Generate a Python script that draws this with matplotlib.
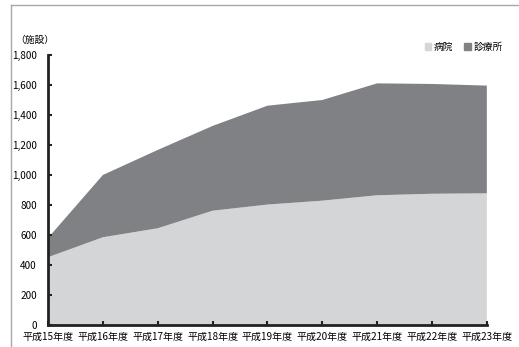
import numpy as np
import matplotlib.pyplot as plt
from matplotlib.lines import Line2D
from matplotlib.patches import Patch

plt.rcParams['font.family'] = ['Noto Sans CJK JP', 'DejaVu Sans']

years = ['平成15年度', '平成16年度', '平成17年度', '平成18年度', '平成19年度',
         '平成20年度', '平成21年度', '平成22年度', '平成23年度']
hospital = [452, 585, 645, 762, 803, 829, 865, 875, 878]
total = [580, 1000, 1167, 1327, 1462, 1500, 1611, 1607, 1596]
clinic = [t - h for t, h in zip(total, hospital)]

c_hosp = '#d4d5d7'
c_clin = '#808184'

fig = plt.figure(figsize=(5.19, 3.47), dpi=100)
ax = fig.add_axes([0.0925, 0.0634, 0.8455, 0.7781])

x = np.arange(len(years))
ax.stackplot(x, hospital, clinic, colors=[c_hosp, c_clin], linewidth=0)

ax.set_xlim(0, len(years) - 1)
ax.set_ylim(0, 1800)
ax.set_yticks(range(0, 1801, 200))
ax.set_yticklabels([f'{v:,}' for v in range(0, 1801, 200)])
ax.set_xticks(x)
ax.set_xticklabels(years)
ax.tick_params(direction='in', length=3, width=1.5, labelsize=7.2, color='#222222')
ax.tick_params(axis='y', pad=8)
ax.tick_params(axis='x', pad=5)
for s in ['top', 'right']:
    ax.spines[s].set_visible(False)
for s in ['left', 'bottom']:
    ax.spines[s].set_linewidth(2)
    ax.spines[s].set_color('#222222')

fig.text(0.03, 0.885, '（施設）', fontsize=7, ha='left', va='center')

handles = [Patch(color=c_hosp), Patch(color=c_clin)]
fig.legend(handles, ['病院', '診療所'], loc='center right',
           bbox_to_anchor=(0.985, 0.865), ncol=2, frameon=False, fontsize=7,
           handlelength=0.7, handleheight=0.7, handletextpad=0.2, columnspacing=1.2)

# frame lines around the figure
fig.add_artist(Line2D([0.021, 0.021], [0.0, 0.985], color='#a8a8a8', lw=1))
fig.add_artist(Line2D([0.021, 1.0], [0.985, 0.985], color='#a8a8a8', lw=1))

fig.savefig('out.png', dpi=100)
